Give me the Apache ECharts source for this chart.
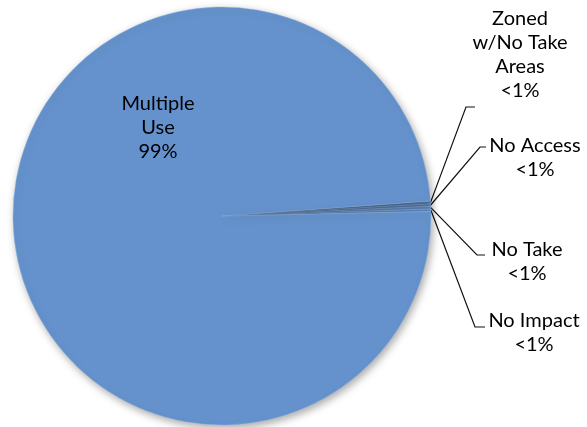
<!DOCTYPE html>
<html>
<head>
<meta charset="utf-8">
<script src="https://cdn.jsdelivr.net/npm/echarts@6/dist/echarts.min.js"></script>
<style>
html,body{margin:0;padding:0;background:#fff;}
#chart{width:587px;height:427px;}
</style>
</head>
<body>
<div id="chart"></div>
<script>
// Data
const categories = ['Zoned w/No Take Areas', 'No Access', 'No Take', 'No Impact', 'Multiple Use'];
const labelTexts = ['Zoned\nw/No Take\nAreas', 'No Access', 'No Take', 'No Impact', 'Multiple\nUse'];
const values = [0.2, 0.2, 0.2, 0.2, 99.2];

// Label layout (text positions, leader elbows) – styling only
const labelCenters = [[520, 55], [535, 158], [527, 262], [534, 333], [158, 128]];
const leaderElbows = [[[466, 107], [475, 107]], [[480, 147], [486, 147]], [[477, 255], [485, 255]], [[475, 327], [485, 327]], null];

const chart = echarts.init(document.getElementById('chart'));
const fontFamily = 'Lato, "Open Sans", sans-serif';

chart.setOption({
  animation: false,
  series: [{
    type: 'pie',
    center: [222, 216],
    radius: 209,
    startAngle: 4.1,
    clockwise: true,
    avoidLabelOverlap: false,
    data: categories.map((c, i) => ({
      name: c,
      value: values[i],
      labelLine: { show: i !== 4 }
    })),
    itemStyle: {
      color: '#6592cc',
      borderColor: '#8fb5e2',
      borderWidth: 0.4,
      shadowBlur: 8,
      shadowColor: 'rgba(0,0,0,0.35)',
      shadowOffsetX: 2,
      shadowOffsetY: 3
    },
    label: {
      show: true,
      position: 'outside',
      color: '#000',
      fontFamily: fontFamily,
      fontSize: 20,
      lineHeight: 24,
      align: 'center',
      formatter: function (p) {
        const pct = p.percent < 1 ? '<1%' : Math.round(p.percent) + '%';
        return labelTexts[p.dataIndex] + '\n' + pct;
      }
    },
    labelLine: {
      show: true,
      lineStyle: { color: '#111', width: 1.2 },
      length: 20,
      length2: 10
    },
    labelLayout: function (params) {
      const i = params.dataIndex;
      const c = labelCenters[i];
      const out = { x: c[0], y: c[1], align: 'center', verticalAlign: 'middle' };
      if (leaderElbows[i] && params.labelLinePoints) {
        const start = params.labelLinePoints[0];
        out.labelLinePoints = [start, leaderElbows[i][0], leaderElbows[i][1]];
      }
      return out;
    }
  }]
});
</script>
</body>
</html>
